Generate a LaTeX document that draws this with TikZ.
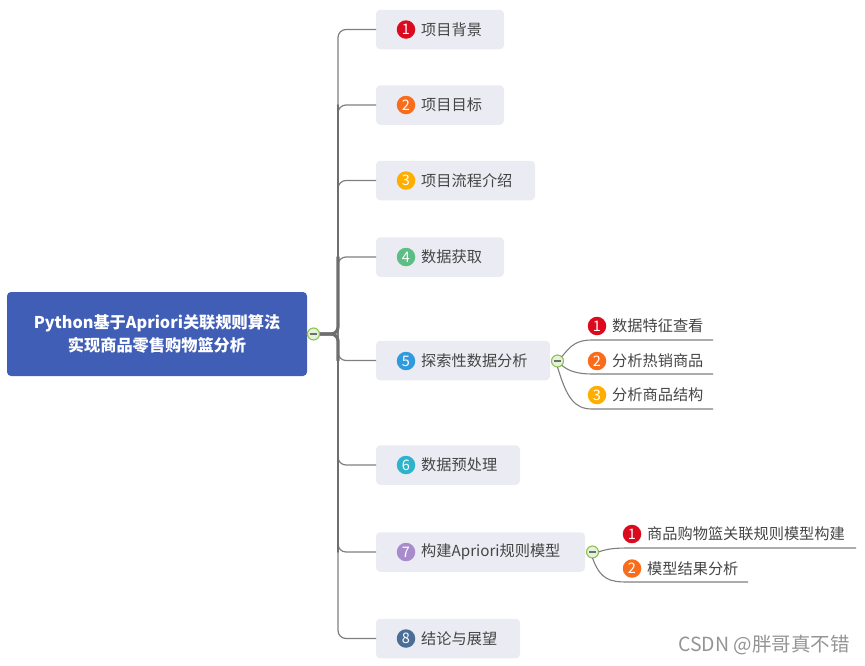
\documentclass[tikz,border=0pt]{standalone}
\usepackage{fontspec}
\setmainfont{Noto Sans CJK SC}
\definecolor{rootblue}{HTML}{415EB6}
\definecolor{boxgrey}{HTML}{EBECF3}
\definecolor{inktext}{HTML}{454545}
\definecolor{linegrey}{HTML}{7F7F7F}
\definecolor{trunkgrey}{HTML}{6E6E6E}
\definecolor{togfill}{HTML}{E4F2D8}
\definecolor{togline}{HTML}{8CC152}
\definecolor{cA}{HTML}{DC0A1E}
\definecolor{cB}{HTML}{F96C1C}
\definecolor{cC}{HTML}{FFAD00}
\definecolor{cD}{HTML}{5CBD85}
\definecolor{cE}{HTML}{2F9BDC}
\definecolor{cF}{HTML}{2DB3CC}
\definecolor{cG}{HTML}{A88BCB}
\definecolor{cH}{HTML}{4A6E96}
\tikzset{
  itembox/.style={fill=boxgrey,rounded corners=4,outer sep=0,inner sep=0,minimum height=39.5},
  rootbox/.style={fill=rootblue,rounded corners=4,outer sep=0,inner sep=0,minimum width=300,minimum height=84,
    text=white,align=center,font=\fontsize{16.2}{23}\selectfont\bfseries},
  label/.style={anchor=west,inner sep=0,text=inktext,font=\fontsize{15.2}{17}\selectfont},
  badge/.style={circle,inner sep=0,minimum size=18.5,text=white,font=\fontsize{14.5}{14.5}\selectfont},
  toggle/.style={circle,draw=togline,line width=1.1,fill=togfill,inner sep=0,minimum size=12,outer sep=0,
    path picture={\draw[line width=1.3,trunkgrey] ([xshift=-3.8pt]path picture bounding box.center) -- ([xshift=3.8pt]path picture bounding box.center);}},
  conn/.style={draw=linegrey,line width=1.2,rounded corners=8},
  trunkseg/.style={draw=trunkgrey,line cap=round},
  subconn/.style={draw=linegrey,line width=1.1},
}
\begin{document}
\begin{tikzpicture}[x=1pt,y=-1pt]
\useasboundingbox (0,0) rectangle (865,665);
% root
\node[rootbox] (root) at (157,334) {Python基于Apriori关联规则算法\\实现商品零售购物篮分析};
% main boxes
\node[itembox,minimum width=128] (b1) at (440,29.5) {};
\node[itembox,minimum width=128] (b2) at (440,105) {};
\node[itembox,minimum width=159] (b3) at (455.5,180.5) {};
\node[itembox,minimum width=128] (b4) at (440,257) {};
\node[itembox,minimum width=174] (b5) at (463,360.5) {};
\node[itembox,minimum width=144] (b6) at (448,465) {};
\node[itembox,minimum width=209] (b7) at (480.5,552) {};
\node[itembox,minimum width=144] (b8) at (448,638.5) {};
% main badges and labels
\node[badge,fill=cA] (n1) at (406,29.5) {1};
\node[label] (l1) at (421,29.5) {项目背景};
\node[badge,fill=cB] (n2) at (406,105) {2};
\node[label] (l2) at (421,105) {项目目标};
\node[badge,fill=cC] (n3) at (406,180.5) {3};
\node[label] (l3) at (421,180.5) {项目流程介绍};
\node[badge,fill=cD] (n4) at (406,257) {4};
\node[label] (l4) at (421,257) {数据获取};
\node[badge,fill=cE] (n5) at (406,361) {5};
\node[label] (l5) at (421,361) {探索性数据分析};
\node[badge,fill=cF] (n6) at (406,465) {6};
\node[label] (l6) at (421,465) {数据预处理};
\node[badge,fill=cG] (n7) at (406,552) {7};
\node[label] (l7) at (421,552) {构建Apriori规则模型};
\node[badge,fill=cH] (n8) at (406,638.5) {8};
\node[label] (l8) at (421,638.5) {结论与展望};
% main connectors
\coordinate (trunk) at (338,334);
\foreach \b in {b1,b2,b3,b4,b5,b6,b7,b8}{
  \draw[conn] (trunk) |- (\b.west);
}
\draw[trunkseg,line width=3.2,rounded corners=7] (307,334) -- (trunk) -- (trunk |- b4.west);
\draw[trunkseg,line width=3.2,rounded corners=7] (307,334) -- (trunk) -- (trunk |- b5.west);
\draw[trunkseg,line width=2.6] (trunk |- b5.west) -- (trunk |- b6.west);
\draw[trunkseg,line width=2.2] (trunk |- b4.west) -- (trunk |- b3.west);
\draw[trunkseg,line width=1.6] (trunk |- b3.west) -- (trunk |- b2.west);
\draw[trunkseg,line width=1.8] (trunk |- b6.west) -- (trunk |- b7.west);
\node[toggle] (t0) at (313.5,334) {};
% branch 5
\node[toggle] (t5) at (557.5,361) {};
\coordinate (k51) at (592,340); \coordinate (e51) at (713,340);
\coordinate (k52) at (592,374); \coordinate (e52) at (713,374);
\coordinate (k53) at (592,409); \coordinate (e53) at (713,409);
\draw[subconn] (t5.north east) .. controls +(9,-11) and +(-16,0) .. (k51) -- (e51);
\draw[subconn] (t5.south east) .. controls +(7,6) and +(-14,0) .. (k52) -- (e52);
\draw[subconn] (t5.south) .. controls +(9,30) and +(-18,0) .. (k53) -- (e53);
\node[badge,fill=cA] (n51) at (597,326) {1};
\node[label] (l51) at (612,326) {数据特征查看};
\node[badge,fill=cB] (n52) at (597,361) {2};
\node[label] (l52) at (612,361) {分析热销商品};
\node[badge,fill=cC] (n53) at (597,395) {3};
\node[label] (l53) at (612,395) {分析商品结构};
% branch 7
\node[toggle] (t7) at (592.5,552) {};
\coordinate (k71) at (628,548); \coordinate (e71) at (856,548);
\coordinate (k72) at (628,582); \coordinate (e72) at (748,582);
\draw[subconn] (t7.east) .. controls +(8,-3) and +(-14,0) .. (k71) -- (e71);
\draw[subconn] (t7.south) .. controls +(8,22) and +(-18,0) .. (k72) -- (e72);
\node[badge,fill=cA] (n71) at (632,534) {1};
\node[label] (l71) at (647,534) {商品购物篮关联规则模型构建};
\node[badge,fill=cB] (n72) at (632,568.5) {2};
\node[label] (l72) at (647,568.5) {模型结果分析};
% watermark
\node[anchor=west,inner sep=0,text=black!42,font=\fontsize{19.5}{22}\selectfont] (wm) at (678,645) {CSDN @胖哥真不错};
\end{tikzpicture}
\end{document}
